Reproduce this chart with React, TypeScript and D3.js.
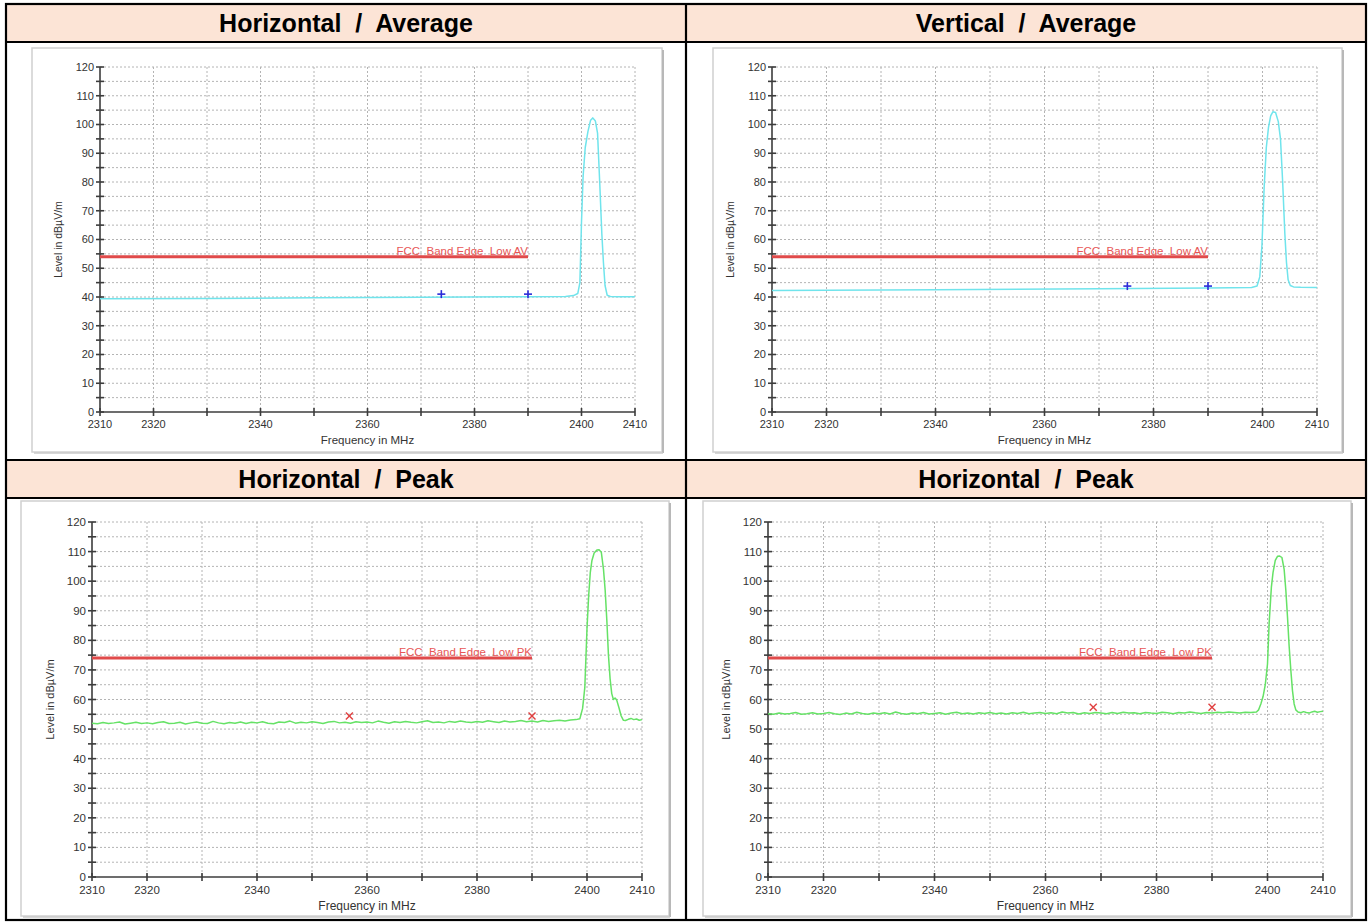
import React from 'react';
import * as d3 from 'd3';

// ---- axis ticks ----
const FREQ_DOMAIN: [number, number] = [2310, 2410];
const LEVEL_DOMAIN: [number, number] = [0, 120];
const freqGrid = [2310, 2320, 2330, 2340, 2350, 2360, 2370, 2380, 2390, 2400, 2410];
const freqLabels = [2310, 2320, 2340, 2360, 2380, 2400, 2410];
const levelLabels = [0, 10, 20, 30, 40, 50, 60, 70, 80, 90, 100, 110, 120];
const levelMinor = [5, 15, 25, 35, 45, 55, 65, 75, 85, 95, 105, 115];

// ---- panel titles ----
const titles = ['Horizontal  /  Average', 'Vertical  /  Average', 'Horizontal  /  Peak', 'Horizontal  /  Peak'];

// ---- limit lines ----
const limitAV = 54;
const limitPK = 74;
const limitEnd = 2390;
const limitLabelAV = 'FCC  Band Edge  Low AV';
const limitLabelPK = 'FCC  Band Edge  Low PK';

// ---- Horizontal / Average trace ----
const hAvgFreq = [2310, 2330, 2350, 2370, 2390, 2397, 2398.5, 2399.3, 2399.7, 2400.0, 2400.3, 2400.7, 2401.2, 2401.7, 2402.1, 2402.6, 2403.0, 2403.4, 2403.8, 2404.1, 2404.4, 2404.8, 2405.4, 2407, 2410];
const hAvgLevel = [39.4, 39.5, 39.7, 39.9, 40.1, 40.2, 40.5, 41.2, 45, 66, 82, 92, 97.5, 101.5, 102.3, 101.2, 97, 80, 62, 52, 44, 40.6, 40.2, 40.1, 40.1];
const hAvgMarkers: [number, number][] = [[2373.8, 41.0], [2390, 41.0]];

// ---- Vertical / Average trace ----
const vAvgFreq = [2310, 2340, 2370, 2390, 2398, 2399.0, 2399.5, 2399.9, 2400.3, 2400.7, 2401.1, 2401.5, 2401.9, 2402.4, 2402.9, 2403.3, 2403.7, 2404.1, 2404.4, 2404.7, 2405.1, 2405.7, 2407, 2410];
const vAvgLevel = [42.3, 42.5, 42.9, 43.1, 43.3, 43.8, 47, 58, 78, 92, 99, 103, 104.4, 104.2, 101, 95, 80, 62, 52, 46, 44, 43.5, 43.4, 43.3];
const vAvgMarkers: [number, number][] = [[2375.2, 43.8], [2390, 43.8]];

// ---- Horizontal / Peak trace (left) ----
const hPkBaseStart = 2310;
const hPkBase = [
  52.0, 51.8, 52.2, 51.9, 52.1, 52.4, 51.7, 52.0, 52.3, 51.9,
  52.1, 51.8, 52.2, 52.5, 51.9, 52.0, 52.3, 51.7, 52.1, 52.4,
  52.0, 51.9, 52.6, 52.1, 51.8, 52.2, 52.0, 52.4, 51.9, 52.3,
  52.1, 52.5, 52.0, 51.8, 52.4, 52.2, 52.7, 52.0, 52.3, 52.1,
  52.5, 52.2, 51.9, 52.4, 52.6, 52.1, 52.3, 52.0, 52.5, 52.2,
  52.4, 52.1, 52.7, 52.3, 52.0, 52.5, 52.2, 52.6, 52.3, 52.1,
  52.5, 52.8, 52.2, 52.4, 52.1, 52.6, 52.3, 52.7, 52.4, 52.2,
  52.6, 52.3, 52.8, 52.5, 52.2, 52.7, 52.4, 52.6, 52.9, 52.5,
  52.7, 52.4, 52.9, 52.6, 52.8, 53.0, 52.7, 53.1,
];
const hPkPeakFreq = [2398, 2398.7, 2399.2, 2399.6, 2400.0, 2400.3, 2400.6, 2400.9, 2401.3, 2401.8, 2402.2, 2402.6, 2403.0, 2403.3, 2403.6, 2403.9, 2404.2, 2404.5, 2404.8, 2405.1, 2405.4, 2405.8, 2406.2, 2406.6, 2407, 2407.5, 2408, 2408.5, 2409, 2409.5, 2410];
const hPkPeakLevel = [53.2, 53.5, 57, 64, 84, 95, 103, 107, 109.5, 110.5, 110.6, 109.8, 104, 97, 87, 75, 67, 62, 60, 60.5, 59.8, 57.3, 54.5, 53.0, 52.9, 53.3, 53.6, 53.2, 53.4, 53.0, 53.2];
const hPkMarkers: [number, number][] = [[2356.8, 54.4], [2390, 54.4]];

// ---- Horizontal / Peak trace (right) ----
const hPk2BaseStart = 2310;
const hPk2Base = [
  55.2, 55.0, 55.4, 55.1, 55.3, 55.6, 55.0, 55.2, 55.5, 55.1,
  55.3, 55.6, 55.2, 54.9, 55.4, 55.1, 55.7, 55.3, 55.0, 55.4,
  55.2, 55.5, 55.1, 55.8, 55.3, 55.0, 55.4, 55.2, 55.6, 55.1,
  55.3, 55.5, 55.0, 55.4, 55.7, 55.2, 55.4, 55.1, 55.5, 55.3,
  55.6, 55.2, 55.4, 55.1, 55.5, 55.3, 55.7, 55.2, 55.4, 55.6,
  55.3, 55.5, 55.2, 55.8, 55.4, 55.6, 55.1, 55.5, 55.3, 55.6,
  55.4, 55.2, 55.6, 55.3, 55.7, 55.4, 55.5, 55.2, 55.6, 55.4,
  55.3, 55.7, 55.5, 55.2, 55.6, 55.4, 55.8, 55.5, 55.3, 55.6,
  55.4, 55.7, 55.5, 55.8, 55.6, 55.4, 55.7, 55.6,
];
const hPk2PeakFreq = [2398, 2398.4, 2398.8, 2399.2, 2399.6, 2400.0, 2400.3, 2400.7, 2401.0, 2401.4, 2401.8, 2402.2, 2402.6, 2403.0, 2403.3, 2403.6, 2403.9, 2404.2, 2404.5, 2404.8, 2405.1, 2405.5, 2406, 2406.5, 2407, 2407.5, 2408, 2408.5, 2409, 2409.5, 2410];
const hPk2PeakLevel = [55.8, 56.5, 58.5, 61, 65, 72, 86, 98, 103, 107, 108.4, 108.5, 108.0, 104, 97, 88, 78, 70, 63, 58.5, 56.5, 55.8, 55.5, 55.9, 55.6, 55.4, 55.8, 56.0, 55.7, 55.9, 56.0];
const hPk2Markers: [number, number][] = [[2368.6, 57.4], [2390, 57.4]];

type Pt = [number, number];

function joinTrace(freqs: number[], levels: number[]): Pt[] {
  return freqs.map((f, i) => [f, levels[i]] as Pt);
}

function joinBase(start: number, base: number[], pf: number[], pl: number[]): Pt[] {
  const pts: Pt[] = base.map((v, i) => [start + i, v] as Pt);
  return pts.concat(joinTrace(pf, pl));
}

const FONT = '"Liberation Sans", Arial, Helvetica, sans-serif';

interface ChartProps {
  box: { x0: number; y0: number; x1: number; y1: number };
  plot: { x0: number; x1: number; yTop: number; yBottom: number };
  trace: Pt[];
  color: string;
  limit: number;
  limitLabel: string;
  markers: Pt[];
  markerKind: 'plus' | 'cross';
  tickSize: number;
  titleSize: number;
}

function Chart(p: ChartProps) {
  const x = d3.scaleLinear().domain(FREQ_DOMAIN).range([p.plot.x0, p.plot.x1]);
  const y = d3.scaleLinear().domain(LEVEL_DOMAIN).range([p.plot.yBottom, p.plot.yTop]);
  const line = d3.line<Pt>().x(d => x(d[0])).y(d => y(d[1]));
  const ax = x(FREQ_DOMAIN[0]);
  const ay = y(0);
  const grid = '#b4b4b4';
  const axisColor = '#3c3c3c';
  const tick = 4;
  const { box } = p;
  return (
    <g>
      {/* window frame */}
      <rect x={box.x0} y={box.y0} width={box.x1 - box.x0} height={box.y1 - box.y0} fill="#ffffff" stroke="#d0d0d0" strokeWidth={1.5} />
      <line x1={box.x1 + 1} y1={box.y0 + 2} x2={box.x1 + 1} y2={box.y1 + 1} stroke="#b8b8b8" strokeWidth={2} />
      <line x1={box.x0 + 2} y1={box.y1 + 1} x2={box.x1 + 1} y2={box.y1 + 1} stroke="#c8c8c8" strokeWidth={1.5} />

      {/* grid */}
      {levelLabels.concat(levelMinor).filter(v => v > 0).map(v => (
        <line key={'h' + v} x1={ax} x2={x(FREQ_DOMAIN[1])} y1={y(v)} y2={y(v)} stroke={grid} strokeWidth={1} strokeDasharray="2,2" />
      ))}
      {freqGrid.filter(f => f > FREQ_DOMAIN[0]).map(f => (
        <line key={'v' + f} x1={x(f)} x2={x(f)} y1={y(120)} y2={ay} stroke={grid} strokeWidth={1} strokeDasharray="2,2" />
      ))}

      {/* y axis */}
      <line x1={ax} x2={ax} y1={y(120)} y2={ay} stroke={axisColor} strokeWidth={1.6} />
      {levelLabels.concat(levelMinor).map(v => (
        <line key={'yt' + v} x1={ax - tick} x2={ax + tick} y1={y(v)} y2={y(v)} stroke={axisColor} strokeWidth={1.6} />
      ))}
      {levelLabels.map(v => (
        <text key={'yl' + v} x={ax - 6} y={y(v)} dy="0.35em" textAnchor="end" fontSize={p.tickSize} fontFamily={FONT} fill="#333">{v}</text>
      ))}
      <text transform={`translate(${ax - 38},${(y(120) + ay) / 2}) rotate(-90)`} textAnchor="middle" fontSize={p.titleSize - 1} fontFamily={FONT} fill="#333">Level in dBµV/m</text>

      {/* x axis */}
      <line x1={ax} x2={x(FREQ_DOMAIN[1])} y1={ay} y2={ay} stroke={axisColor} strokeWidth={1.6} />
      {freqGrid.map(f => (
        <line key={'xt' + f} x1={x(f)} x2={x(f)} y1={ay - tick} y2={ay + tick} stroke={axisColor} strokeWidth={1.6} />
      ))}
      {freqLabels.map(f => (
        <text key={'xl' + f} x={x(f)} y={ay + p.tickSize + 5} textAnchor="middle" fontSize={p.tickSize} fontFamily={FONT} fill="#333">{f}</text>
      ))}
      <text x={(ax + x(FREQ_DOMAIN[1])) / 2} y={ay + p.tickSize + p.titleSize + 9} textAnchor="middle" fontSize={p.titleSize} fontFamily={FONT} fill="#333">Frequency in MHz</text>

      {/* limit line */}
      <line x1={ax} x2={x(limitEnd)} y1={y(p.limit)} y2={y(p.limit)} stroke="#e04a4a" strokeWidth={3} />
      <text x={x(limitEnd)} y={y(p.limit) - 2} textAnchor="end" fontSize={11.5} fontFamily={FONT} fill="#e85656" style={{ whiteSpace: 'pre' }}>{p.limitLabel}</text>

      {/* measured trace */}
      <path d={line(p.trace) || ''} fill="none" stroke={p.color} strokeWidth={1.5} strokeLinejoin="round" />

      {/* markers */}
      {p.markers.map((m, i) => {
        const cx = x(m[0]);
        const cy = y(m[1]);
        if (p.markerKind === 'plus') {
          return (
            <g key={'m' + i} stroke="#2a2ad8" strokeWidth={1.6}>
              <line x1={cx - 4} x2={cx + 4} y1={cy} y2={cy} />
              <line x1={cx} x2={cx} y1={cy - 4} y2={cy + 4} />
            </g>
          );
        }
        return (
          <g key={'m' + i} stroke="#e04040" strokeWidth={1.4}>
            <line x1={cx - 3.5} x2={cx + 3.5} y1={cy - 3.5} y2={cy + 3.5} />
            <line x1={cx - 3.5} x2={cx + 3.5} y1={cy + 3.5} y2={cy - 3.5} />
          </g>
        );
      })}
    </g>
  );
}

export default function App() {
  const W = 1370;
  const H = 923;
  const tableL = 6, tableR = 1366, tableT = 4, tableB = 920, midX = 686;
  const h1T = tableT, h1B = 42, h2T = 460, h2B = 498;
  const headerFill = '#fce4d6';

  const cyan = '#70e4ec';
  const green = '#66e266';

  return (
    <svg width={W} height={H} style={{ position: 'absolute', left: 0, top: 0, background: '#fff' }}>
      {/* header backgrounds */}
      <rect x={tableL} y={h1T} width={tableR - tableL} height={h1B - h1T} fill={headerFill} />
      <rect x={tableL} y={h2T} width={tableR - tableL} height={h2B - h2T} fill={headerFill} />

      {[
        [titles[0], (tableL + midX) / 2, (h1T + h1B) / 2],
        [titles[1], (midX + tableR) / 2, (h1T + h1B) / 2],
        [titles[2], (tableL + midX) / 2, (h2T + h2B) / 2],
        [titles[3], (midX + tableR) / 2, (h2T + h2B) / 2],
      ].map(([t, cx, cy], i) => (
        <text key={'t' + i} x={cx as number} y={cy as number} dy="0.36em" textAnchor="middle" fontFamily={FONT} fontWeight="bold" fontSize={25} fill="#000" style={{ whiteSpace: 'pre' }}>{t as string}</text>
      ))}

      <Chart
        box={{ x0: 32, y0: 48, x1: 662, y1: 452 }}
        plot={{ x0: 100, x1: 635, yTop: 67, yBottom: 412 }}
        trace={joinTrace(hAvgFreq, hAvgLevel)}
        color={cyan}
        limit={limitAV}
        limitLabel={limitLabelAV}
        markers={hAvgMarkers}
        markerKind="plus"
        tickSize={11}
        titleSize={11.5}
      />
      <Chart
        box={{ x0: 713, y0: 48, x1: 1342, y1: 452 }}
        plot={{ x0: 772, x1: 1317, yTop: 67, yBottom: 412 }}
        trace={joinTrace(vAvgFreq, vAvgLevel)}
        color={cyan}
        limit={limitAV}
        limitLabel={limitLabelAV}
        markers={vAvgMarkers}
        markerKind="plus"
        tickSize={11}
        titleSize={11.5}
      />
      <Chart
        box={{ x0: 21, y0: 501, x1: 669, y1: 916 }}
        plot={{ x0: 92, x1: 642, yTop: 522, yBottom: 877 }}
        trace={joinBase(hPkBaseStart, hPkBase, hPkPeakFreq, hPkPeakLevel)}
        color={green}
        limit={limitPK}
        limitLabel={limitLabelPK}
        markers={hPkMarkers}
        markerKind="cross"
        tickSize={11.5}
        titleSize={12}
      />
      <Chart
        box={{ x0: 703, y0: 501, x1: 1351, y1: 916 }}
        plot={{ x0: 768, x1: 1323, yTop: 522, yBottom: 877 }}
        trace={joinBase(hPk2BaseStart, hPk2Base, hPk2PeakFreq, hPk2PeakLevel)}
        color={green}
        limit={limitPK}
        limitLabel={limitLabelPK}
        markers={hPk2Markers}
        markerKind="cross"
        tickSize={11.5}
        titleSize={12}
      />

      {/* table rules */}
      <g stroke="#000" strokeWidth={2.2} fill="none">
        <rect x={tableL} y={tableT} width={tableR - tableL} height={tableB - tableT} />
        <line x1={midX} x2={midX} y1={tableT} y2={tableB} />
        <line x1={tableL} x2={tableR} y1={h1B} y2={h1B} />
        <line x1={tableL} x2={tableR} y1={h2T} y2={h2T} />
        <line x1={tableL} x2={tableR} y1={h2B} y2={h2B} />
      </g>
    </svg>
  );
}
